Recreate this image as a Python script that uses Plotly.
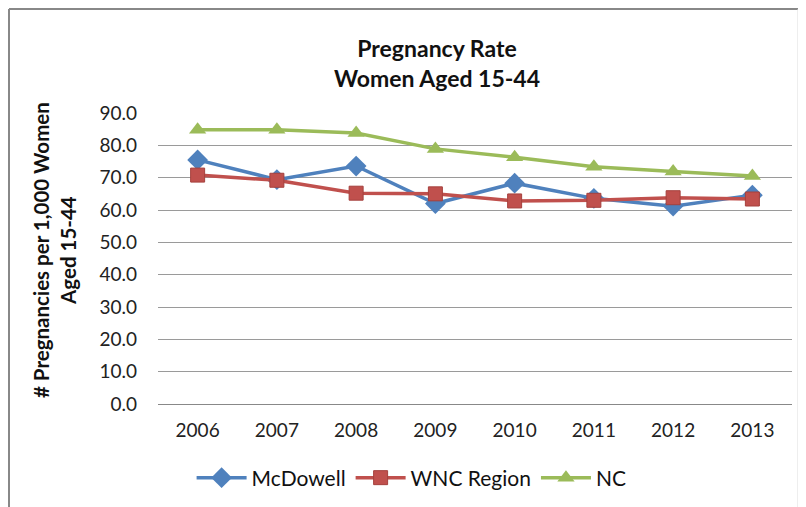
import plotly.graph_objects as go

# data
years = ["2006", "2007", "2008", "2009", "2010", "2011", "2012", "2013"]
mcdowell = [75.5, 69.4, 73.6, 62.0, 68.3, 63.6, 61.2, 64.6]
wnc_region = [70.8, 69.2, 65.2, 65.0, 62.8, 63.0, 63.8, 63.4]
nc = [84.8, 84.8, 83.8, 78.9, 76.3, 73.4, 71.9, 70.5]
y_ticks = [0, 10, 20, 30, 40, 50, 60, 70, 80, 90]

FONT = "Lato"
# page has an 8px body margin, so the figure is laid out shifted by 8px
L, T, PW, PH = 150, 105, 634, 291

fig = go.Figure()

# McDowell
fig.add_trace(go.Scatter(
    x=years, y=mcdowell, name="McDowell", mode="lines+markers",
    line=dict(color="#4F81BD", width=3.5),
    marker=dict(symbol="diamond", size=16, color="#4F81BD"),
))

# WNC Region
fig.add_trace(go.Scatter(
    x=years, y=wnc_region, name="WNC Region", mode="lines+markers",
    line=dict(color="#C0504D", width=3.5),
    marker=dict(symbol="square", size=14, color="#C0504D",
                line=dict(color="#A5403D", width=1)),
))

# NC
fig.add_trace(go.Scatter(
    x=years, y=nc, name="NC", mode="lines+markers",
    line=dict(color="#9BBB59", width=3.5),
    marker=dict(symbol="triangle-up", size=15, color="#9BBB59"),
))

fig.update_layout(
    width=806, height=507,
    margin=dict(l=L, r=806 - L - PW, t=T, b=507 - T - PH, autoexpand=False),
    paper_bgcolor="white", plot_bgcolor="white",
    font=dict(family=FONT, size=19, color="#222222"),
    title=dict(
        text="<b>Pregnancy Rate<br>Women Aged 15-44</b>",
        x=(437 - 8) / 806, xanchor="center", y=1 - 49 / 507, yanchor="middle",
        font=dict(family=FONT, size=23, color="#111111"),
    ),
    showlegend=True,
    legend=dict(
        orientation="h", x=0.40, xanchor="center",
        y=-74 / PH, yanchor="middle",
        font=dict(family=FONT, size=21, color="#111111"),
        itemwidth=50, traceorder="normal",
    ),
    xaxis=dict(
        type="category", showgrid=False, showline=True,
        linecolor="#888888", linewidth=1, ticks="",
        ticklabelstandoff=9,
        tickfont=dict(family=FONT, size=19, color="#222222"),
        range=[-0.5, len(years) - 0.5],
    ),
    yaxis=dict(
        range=[0, 90], tickvals=y_ticks, tickformat=".1f",
        showgrid=True, gridcolor="#9A9A9A", gridwidth=1, zeroline=False,
        ticks="", ticklabelstandoff=20,
        tickfont=dict(family=FONT, size=19, color="#222222"),
    ),
    annotations=[dict(
        text="<b># Pregnancies per 1,000 Women<br>Aged 15-44</b>",
        xref="paper", yref="paper", x=(46 - L) / PW, y=(404 - 250) / PH,
        xanchor="center", yanchor="middle", textangle=-90, showarrow=False,
        font=dict(family=FONT, size=20.5, color="#111111"),
    )],
)

# chart border (left and top visible, faint right)
top = 1 + (T - 1) / PH
fig.add_shape(type="line", xref="paper", yref="paper",
              x0=(1 - L) / PW, x1=(1 - L) / PW, y0=-(507 - T - PH) / PH, y1=top,
              line=dict(color="#888888", width=2))
fig.add_shape(type="line", xref="paper", yref="paper",
              x0=(1 - L) / PW, x1=1 + 8 / PW, y0=top, y1=top,
              line=dict(color="#888888", width=2))
fig.add_shape(type="line", xref="paper", yref="paper",
              x0=1 + 6 / PW, x1=1 + 6 / PW, y0=-(507 - T - PH) / PH, y1=top,
              line=dict(color="#DDDDDD", width=1))

fig.write_html("out.html")
